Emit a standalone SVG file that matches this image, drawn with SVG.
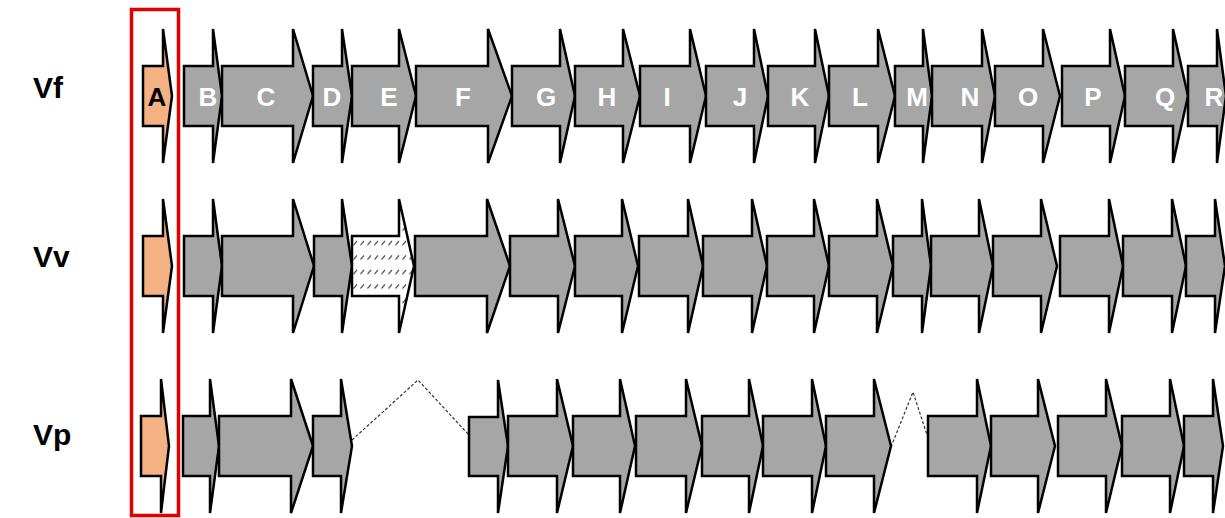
<svg xmlns="http://www.w3.org/2000/svg" width="1225" height="518" viewBox="0 0 1225 518">
<style>
.g{fill:#a6a6a6;stroke:#000;stroke-width:2.5;stroke-linejoin:miter;stroke-miterlimit:3}
.o{fill:#f4b183;stroke:#000;stroke-width:2.5;stroke-miterlimit:3}
.h{fill:url(#hatch);stroke:#000;stroke-width:2.5;stroke-miterlimit:3}
.lbl{font-family:"Liberation Sans",Arial,sans-serif;font-weight:bold;font-size:26px;fill:#fff;text-anchor:middle}
.row{font-family:"Liberation Sans",Arial,sans-serif;font-weight:bold;font-size:30px;fill:#000}
.dash{fill:none;stroke:#333;stroke-width:1.2;stroke-dasharray:3 2}
</style>
<defs>
<pattern id="hatch" patternUnits="userSpaceOnUse" x="352" y="236" width="7" height="14.5">
<rect width="7" height="14.5" fill="#fff"/>
<path d="M1.5 9 L5 5" stroke="#333" stroke-width="1.1"/>
</pattern>
</defs>
<rect width="1225" height="518" fill="#fff"/>
<g id="row-labels">
<text class="row" x="33" y="98">Vf</text>
<text class="row" x="33" y="267">Vv</text>
<text class="row" x="33" y="445">Vp</text>
</g>
<g id="connectors">
<polyline class="dash" points="352,440 418,380 469,435"/>
<polyline class="dash" points="891,447 913,392 928,438"/>
</g>
<g id="row-Vf">
<g id="Vf-A"><path class="o" d="M143 66H163V29L172 96L163 163V126H143Z"/><text class="lbl" x="157" y="106" style="fill:#000">A</text></g>
<g id="Vf-B"><path class="g" d="M184 66H213V29L222 96L213 163V126H184Z"/><text class="lbl" x="208" y="106">B</text></g>
<g id="Vf-C"><path class="g" d="M222 66H293V29L313 96L293 163V126H222Z"/><text class="lbl" x="266" y="106">C</text></g>
<g id="Vf-D"><path class="g" d="M313 66H342V29L352 96L342 163V126H313Z"/><text class="lbl" x="332" y="106">D</text></g>
<g id="Vf-E"><path class="g" d="M352 66H399V29L416 96L399 163V126H352Z"/><text class="lbl" x="389" y="106">E</text></g>
<g id="Vf-F"><path class="g" d="M416 66H488V29L512 96L488 163V126H416Z"/><text class="lbl" x="463" y="106">F</text></g>
<g id="Vf-G"><path class="g" d="M512 66H560V29L575 96L560 163V126H512Z"/><text class="lbl" x="546" y="106">G</text></g>
<g id="Vf-H"><path class="g" d="M575 66H623V29L640 96L623 163V126H575Z"/><text class="lbl" x="607" y="106">H</text></g>
<g id="Vf-I"><path class="g" d="M640 66H690V29L706 96L690 163V126H640Z"/><text class="lbl" x="667" y="106">I</text></g>
<g id="Vf-J"><path class="g" d="M706 66H754V29L768 96L754 163V126H706Z"/><text class="lbl" x="740" y="106">J</text></g>
<g id="Vf-K"><path class="g" d="M768 66H815V29L829 96L815 163V126H768Z"/><text class="lbl" x="800" y="106">K</text></g>
<g id="Vf-L"><path class="g" d="M829 66H878V29L895 96L878 163V126H829Z"/><text class="lbl" x="860" y="106">L</text></g>
<g id="Vf-M"><path class="g" d="M895 66H923V29L932 96L923 163V126H895Z"/><text class="lbl" x="917" y="106">M</text></g>
<g id="Vf-N"><path class="g" d="M932 66H982V29L995 96L982 163V126H932Z"/><text class="lbl" x="970" y="106">N</text></g>
<g id="Vf-O"><path class="g" d="M995 66H1043V29L1060 96L1043 163V126H995Z"/><text class="lbl" x="1028" y="106">O</text></g>
<g id="Vf-P"><path class="g" d="M1062 66H1110V29L1125 96L1110 163V126H1062Z"/><text class="lbl" x="1093" y="106">P</text></g>
<g id="Vf-Q"><path class="g" d="M1125 66H1173V29L1188 96L1173 163V126H1125Z"/><text class="lbl" x="1165" y="106">Q</text></g>
<g id="Vf-R"><path class="g" d="M1188 66H1217V29L1226 96L1217 163V126H1188Z"/><text class="lbl" x="1214" y="106">R</text></g>
</g>
<g id="row-Vv">
<g id="Vv-A"><path class="o" d="M143 236H163V199L172 266L163 333V296H143Z"/></g>
<g id="Vv-B"><path class="g" d="M184 236H213V199L222 266L213 333V296H184Z"/></g>
<g id="Vv-C"><path class="g" d="M222 236H293V199L314 266L293 333V296H222Z"/></g>
<g id="Vv-D"><path class="g" d="M314 236H342V199L352 266L342 333V296H314Z"/></g>
<g id="Vv-E"><path class="h" d="M352 236H399V199L414 266L399 333V296H352Z"/></g>
<g id="Vv-F"><path class="g" d="M415 236H487V199L510 266L487 333V296H415Z"/></g>
<g id="Vv-G"><path class="g" d="M510 236H558V199L575 266L558 333V296H510Z"/></g>
<g id="Vv-H"><path class="g" d="M575 236H622V199L638 266L622 333V296H575Z"/></g>
<g id="Vv-I"><path class="g" d="M639 236H688V199L703 266L688 333V296H639Z"/></g>
<g id="Vv-J"><path class="g" d="M703 236H752V199L767 266L752 333V296H703Z"/></g>
<g id="Vv-K"><path class="g" d="M767 236H814V199L829 266L814 333V296H767Z"/></g>
<g id="Vv-L"><path class="g" d="M829 236H877V199L893 266L877 333V296H829Z"/></g>
<g id="Vv-M"><path class="g" d="M893 236H922V199L931 266L922 333V296H893Z"/></g>
<g id="Vv-N"><path class="g" d="M931 236H979V199L993 266L979 333V296H931Z"/></g>
<g id="Vv-O"><path class="g" d="M993 236H1041V199L1057 266L1041 333V296H993Z"/></g>
<g id="Vv-P"><path class="g" d="M1060 236H1109V199L1123 266L1109 333V296H1060Z"/></g>
<g id="Vv-Q"><path class="g" d="M1123 236H1172V199L1186 266L1172 333V296H1123Z"/></g>
<g id="Vv-R"><path class="g" d="M1186 236H1215V199L1225 266L1215 333V296H1186Z"/></g>
</g>
<g id="row-Vp">
<g id="Vp-A"><path class="o" d="M141 416H161V379L169 446L161 513V476H141Z"/></g>
<g id="Vp-B"><path class="g" d="M183 416H210V379L219 446L210 513V476H183Z"/></g>
<g id="Vp-C"><path class="g" d="M219 416H291V379L313 446L291 513V476H219Z"/></g>
<g id="Vp-D"><path class="g" d="M313 416H341V379L352 446L341 513V476H313Z"/></g>
<g id="Vp-G"><path class="g" d="M469 417H498V380L508 446L498 513V476H469Z"/></g>
<g id="Vp-H"><path class="g" d="M508 416H557V379L573 446L557 513V476H508Z"/></g>
<g id="Vp-I"><path class="g" d="M573 416H620V379L635 446L620 513V476H573Z"/></g>
<g id="Vp-J"><path class="g" d="M636 416H686V379L702 446L686 513V476H636Z"/></g>
<g id="Vp-K"><path class="g" d="M702 416H749V379L763 446L749 513V476H702Z"/></g>
<g id="Vp-L"><path class="g" d="M763 416H812V379L826 446L812 513V476H763Z"/></g>
<g id="Vp-M"><path class="g" d="M826 416H874V379L891 446L874 513V476H826Z"/></g>
<g id="Vp-N"><path class="g" d="M928 416H977V379L991 446L977 513V476H928Z"/></g>
<g id="Vp-O"><path class="g" d="M991 416H1038V379L1055 446L1038 513V476H991Z"/></g>
<g id="Vp-P"><path class="g" d="M1058 416H1106V379L1122 446L1106 513V476H1058Z"/></g>
<g id="Vp-Q"><path class="g" d="M1122 416H1170V379L1184 446L1170 513V476H1122Z"/></g>
<g id="Vp-R"><path class="g" d="M1184 416H1213V379L1223 446L1213 513V476H1184Z"/></g>
</g>
<g id="highlight">
<rect x="131.5" y="9.5" width="47" height="506" fill="none" stroke="#e00000" stroke-width="3.5"/>
</g>
</svg>
